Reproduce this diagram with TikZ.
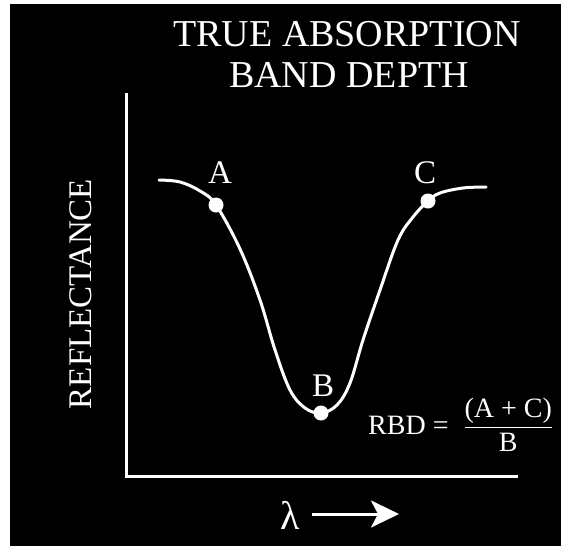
\documentclass[tikz,border=0pt]{standalone}
\usepackage{fontspec}
\usepackage{amsmath}
\setmainfont{Liberation Serif}
\usepackage{tikz}
\usetikzlibrary{arrows.meta, positioning, calc}
\definecolor{Ink}{HTML}{000000}
\definecolor{Chalk}{HTML}{FFFFFF}

\begin{document}
\begin{tikzpicture}[
  x=1pt, y=-1pt,
  every node/.style={text=Chalk, inner sep=0pt},
  title/.style={font=\fontsize{38}{43}\selectfont, anchor=base, align=center},
  axis/.style={draw=Chalk, line width=3pt, line join=miter},
  curve/.style={draw=Chalk, line width=3pt, line cap=round},
  dot/.style={circle, fill=Chalk, minimum size=15pt},
  ptlabel/.style={font=\fontsize{33}{36}\selectfont, anchor=base},
  arrow/.style={-{Stealth[length=28pt, width=27pt, inset=7pt]}, draw=Chalk, line width=3pt}
]
\useasboundingbox (0,0) rectangle (561,546);
\fill[Ink] (10,4) rectangle (561,546);

\node[title] (title1) at (347,46) {TRUE ABSORPTION};
\node[title] (title2) at (349,87) {BAND DEPTH};

% axes
\coordinate (ytop) at (126,93);
\coordinate (origin) at (126,476);
\coordinate (xend) at (518,476);
\draw[axis] (ytop) -- (origin) -- (xend);

\node[font=\fontsize{33}{36}\selectfont, rotate=90, anchor=base] (ylab) at (91,294) {REFLECTANCE};

% spectrum
\draw[curve] plot[smooth, tension=0.6] coordinates {
  (159,180) (180,182) (200,191) (216,205) (240,249) (260,300) (275,350)
  (290,390) (305,408) (321,413) (337,405) (350,383) (363,340) (380,290)
  (398,240) (413,217) (428,201) (440,193) (463,188) (486,187)};

\node[dot] (A) at (216,205) {};
\node[dot] (B) at (321,413) {};
\node[dot] (C) at (428,201) {};
\node[ptlabel] (labA) at (220,183) {A};
\node[ptlabel] (labB) at (323,396) {B};
\node[ptlabel] (labC) at (425,183) {C};

\node[font=\fontsize{28}{32}\selectfont, anchor=base west] (rbd) at (368,434)
  {RBD = \;$\dfrac{\text{(A + C)}}{\text{B}}$};

% wavelength axis label
\node[font=\fontsize{40}{44}\selectfont, anchor=base] (lam) at (290,529) {λ};
\coordinate (arrstart) at (312,514);
\coordinate (arrend) at (399,514);
\draw[arrow] (arrstart) -- (arrend);
\end{tikzpicture}
\end{document}
